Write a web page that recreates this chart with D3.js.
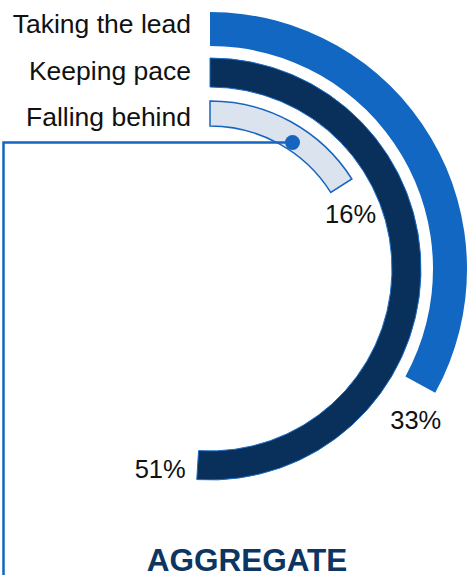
<!DOCTYPE html>
<html>
<head>
<meta charset="utf-8">
<script src="https://cdn.jsdelivr.net/npm/d3@7"></script>
<style>
  html, body { margin: 0; padding: 0; background: #fff; }
  svg { display: block; }
  text { font-family: "Liberation Sans", Arial, sans-serif; }
</style>
</head>
<body>
<svg id="chart" width="469" height="575"></svg>
<script>
// Share of respondents in each group (fraction of a full circle)
const categories = ["Taking the lead", "Keeping pace", "Falling behind"];
const shares = [0.33, 0.51, 0.16];
const shareLabels = ["33%", "51%", "16%"];
const markerShare = 0.092;   // position of the marker on the innermost ring
const title = "AGGREGATE";

const W = 469, H = 575;
const cx = 210, cy = 269;

const svg = d3.select("#chart");
const g = svg.append("g").attr("transform", `translate(${cx},${cy})`);

// full turn for 100%
const angle = d3.scaleLinear().domain([0, 1]).range([0, 2 * Math.PI]);

// ring geometry per category (outer to inner)
const rings = [
  { inner: 223, outer: 257, fill: "#1167c1", stroke: "none", sw: 0 },
  { inner: 182, outer: 211, fill: "#08305a", stroke: "#1a6bc4", sw: 1 },
  { inner: 143, outer: 168, fill: "#dbe4ee", stroke: "#1565c0", sw: 1.5 }
];

const arc = d3.arc();

g.selectAll("path.ring")
  .data(shares)
  .join("path")
  .attr("class", "ring")
  .attr("d", (v, i) => arc({
    innerRadius: rings[i].inner,
    outerRadius: rings[i].outer,
    startAngle: 0,
    endAngle: angle(v)
  }))
  .attr("fill", (v, i) => rings[i].fill)
  .attr("stroke", (v, i) => rings[i].stroke)
  .attr("stroke-width", (v, i) => rings[i].sw);

// category labels to the left of the ring starts
const labelY = d3.scaleLinear().domain([0, 1]).range([33, 79.5]);
svg.selectAll("text.cat")
  .data(categories)
  .join("text")
  .attr("class", "cat")
  .attr("x", 191)
  .attr("y", (d, i) => labelY(i))
  .attr("text-anchor", "end")
  .attr("font-size", 26.5)
  .attr("fill", "#111")
  .text(d => d);

// value labels just past the end of each ring
const labelAngleOffset = [7.4, 10.4, 11].map(d => d * Math.PI / 180);
const labelRadius = [255, 206, 151];
g.selectAll("text.pct")
  .data(shareLabels)
  .join("text")
  .attr("class", "pct")
  .attr("x", (d, i) => labelRadius[i] * Math.sin(angle(shares[i]) + labelAngleOffset[i]))
  .attr("y", (d, i) => -labelRadius[i] * Math.cos(angle(shares[i]) + labelAngleOffset[i]))
  .attr("dy", "0.35em")
  .attr("text-anchor", "middle")
  .attr("font-size", 25.5)
  .attr("fill", "#111")
  .text(d => d);

// marker on the inner ring with a leader line running to the left edge and down
const mr = 151;
const mx = cx + mr * Math.sin(angle(markerShare));
const my = cy - mr * Math.cos(angle(markerShare));
svg.append("path")
  .attr("d", d3.line()([[mx, my], [3.5, my], [3.5, H + 2]]))
  .attr("fill", "none")
  .attr("stroke", "#1565c0")
  .attr("stroke-width", 2.5);
svg.append("circle")
  .attr("cx", mx)
  .attr("cy", my)
  .attr("r", 7.5)
  .attr("fill", "#1565c0");

svg.append("text")
  .attr("x", 247)
  .attr("y", 571)
  .attr("text-anchor", "middle")
  .attr("font-size", 31.5)
  .attr("font-weight", "bold")
  .attr("fill", "#0d3562")
  .text(title);
</script>
</body>
</html>
